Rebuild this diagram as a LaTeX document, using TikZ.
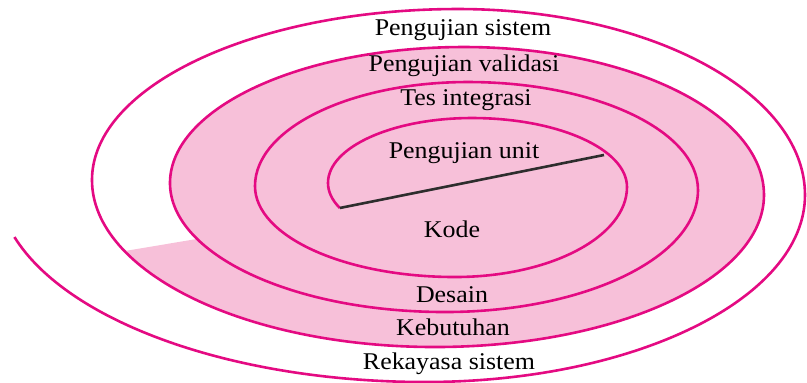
\documentclass[tikz,border=0pt]{standalone}
\usepackage{fontspec}
\setmainfont{Liberation Serif}[FakeStretch=1.08]
\definecolor{spiralmag}{RGB}{228,10,130}
\definecolor{spiralpink}{RGB}{247,192,217}
\definecolor{axisgray}{RGB}{45,45,45}
\tikzset{
  spiralline/.style={draw=spiralmag, line width=2.6pt},
  pinkarea/.style={fill=spiralpink},
  axisline/.style={draw=axisgray, line width=2.6pt},
  lbl/.style={anchor=base, inner sep=0pt, font=\fontsize{24}{28}\selectfont, text=black}
}
\begin{document}
\begin{tikzpicture}[x=1pt,y=1pt]
\useasboundingbox (0,0) rectangle (807,383);
% named points
\coordinate (S) at (339.8,175);
\coordinate (E) at (604,228);
\coordinate (Q) at (197.2,144.1);
% pink area: from Q on turn 1 round turn 2 to P, then straight back to Q
\fill[pinkarea] (Q)
  arc[start angle=-154.3, end angle=-180, x radius=275pt, y radius=129pt]
  arc[start angle=180, end angle=90, x radius=294pt, y radius=136pt]
  arc[start angle=90, end angle=0, x radius=300pt, y radius=148pt]
  arc[start angle=0, end angle=-90, x radius=329pt, y radius=152pt]
  arc[start angle=-90, end angle=-154.8, x radius=343pt, y radius=167pt]
  -- cycle;
% spiral
\draw[spiralline] (S)
  arc[start angle=-155.4, end angle=-180, x radius=130pt, y radius=60pt]
  arc[start angle=180, end angle=90, x radius=144pt, y radius=65pt]
  arc[start angle=90, end angle=0, x radius=155pt, y radius=69pt]
  arc[start angle=0, end angle=-90, x radius=172pt, y radius=90pt]
  arc[start angle=-90, end angle=-180, x radius=200pt, y radius=91pt]
  arc[start angle=180, end angle=90, x radius=213pt, y radius=104pt]
  arc[start angle=90, end angle=0, x radius=230pt, y radius=108pt]
  arc[start angle=0, end angle=-90, x radius=253pt, y radius=122pt]
  arc[start angle=-90, end angle=-180, x radius=275pt, y radius=129pt]
  arc[start angle=180, end angle=90, x radius=294pt, y radius=136pt]
  arc[start angle=90, end angle=0, x radius=300pt, y radius=148pt]
  arc[start angle=0, end angle=-90, x radius=329pt, y radius=152pt]
  arc[start angle=-90, end angle=-180, x radius=343pt, y radius=167pt]
  arc[start angle=180, end angle=90, x radius=366pt, y radius=171pt]
  arc[start angle=90, end angle=0, x radius=347pt, y radius=186pt]
  arc[start angle=0, end angle=-90, x radius=380pt, y radius=187pt]
  arc[start angle=-90, end angle=-163.6, x radius=428pt, y radius=202pt];
% black line
\draw[axisline] (S) -- (E);
% labels
\node[lbl] (psis) at (463,347) {Pengujian sistem};
\node[lbl] (pval) at (464,311) {Pengujian validasi};
\node[lbl] (tint) at (466,277) {Tes integrasi};
\node[lbl] (puni) at (464,224) {Pengujian unit};
\node[lbl] (kode) at (452,145) {Kode};
\node[lbl] (desa) at (452,80) {Desain};
\node[lbl] (kebu) at (453,47) {Kebutuhan};
\node[lbl] (reka) at (449,13) {Rekayasa sistem};
\end{tikzpicture}
\end{document}
